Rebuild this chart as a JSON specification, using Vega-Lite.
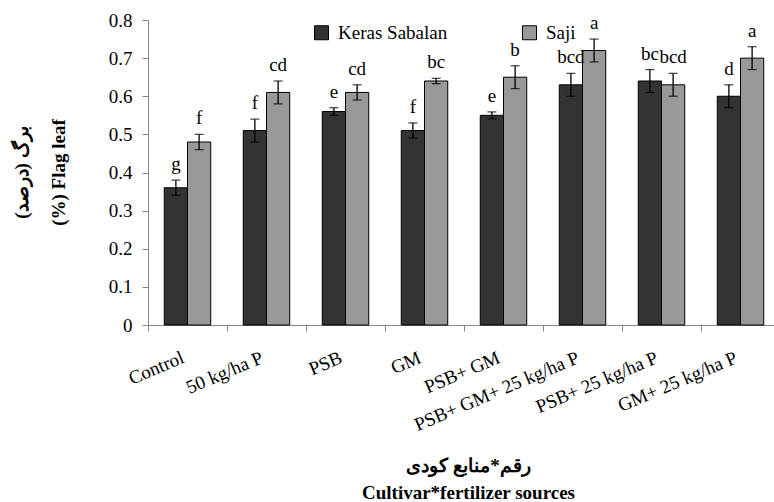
{
  "$schema": "https://vega.github.io/schema/vega-lite/v6.json",
  "width": 626,
  "height": 305,
  "autosize": {"type": "none"},
  "padding": {"left": 148, "top": 20, "right": 0, "bottom": 177},
  "background": "white",
  "data": {
    "values": [
      {"treatment": "Control", "cultivar": "Keras Sabalan", "mean": 0.36, "lo": 0.34, "hi": 0.38, "letter": "g"},
      {"treatment": "Control", "cultivar": "Saji", "mean": 0.48, "lo": 0.46, "hi": 0.50, "letter": "f"},
      {"treatment": "50 kg/ha P", "cultivar": "Keras Sabalan", "mean": 0.51, "lo": 0.48, "hi": 0.54, "letter": "f"},
      {"treatment": "50 kg/ha P", "cultivar": "Saji", "mean": 0.61, "lo": 0.58, "hi": 0.64, "letter": "cd"},
      {"treatment": "PSB", "cultivar": "Keras Sabalan", "mean": 0.56, "lo": 0.55, "hi": 0.57, "letter": "e"},
      {"treatment": "PSB", "cultivar": "Saji", "mean": 0.61, "lo": 0.59, "hi": 0.63, "letter": "cd"},
      {"treatment": "GM", "cultivar": "Keras Sabalan", "mean": 0.51, "lo": 0.49, "hi": 0.53, "letter": "f"},
      {"treatment": "GM", "cultivar": "Saji", "mean": 0.64, "lo": 0.633, "hi": 0.647, "letter": "bc"},
      {"treatment": "PSB+ GM", "cultivar": "Keras Sabalan", "mean": 0.55, "lo": 0.541, "hi": 0.559, "letter": "e"},
      {"treatment": "PSB+ GM", "cultivar": "Saji", "mean": 0.65, "lo": 0.62, "hi": 0.68, "letter": "b"},
      {"treatment": "PSB+ GM+ 25 kg/ha P", "cultivar": "Keras Sabalan", "mean": 0.63, "lo": 0.60, "hi": 0.66, "letter": "bcd"},
      {"treatment": "PSB+ GM+ 25 kg/ha P", "cultivar": "Saji", "mean": 0.72, "lo": 0.69, "hi": 0.75, "letter": "a"},
      {"treatment": "PSB+ 25 kg/ha P", "cultivar": "Keras Sabalan", "mean": 0.64, "lo": 0.61, "hi": 0.67, "letter": "bc"},
      {"treatment": "PSB+ 25 kg/ha P", "cultivar": "Saji", "mean": 0.63, "lo": 0.60, "hi": 0.66, "letter": "bcd"},
      {"treatment": "GM+ 25 kg/ha P", "cultivar": "Keras Sabalan", "mean": 0.60, "lo": 0.57, "hi": 0.63, "letter": "d"},
      {"treatment": "GM+ 25 kg/ha P", "cultivar": "Saji", "mean": 0.70, "lo": 0.67, "hi": 0.73, "letter": "a"}
    ]
  },
  "encoding": {
    "x": {
      "field": "treatment",
      "type": "nominal",
      "sort": null,
      "scale": {"paddingInner": 0, "paddingOuter": 0, "range": [0, 632]},
      "axis": {
        "title": ["رقم*منابع کودی", "Cultivar*fertilizer sources"],
        "bandPosition": 0,
        "labelAngle": -23,
        "labelAlign": "right",
        "labelBaseline": "top",
        "labelOffset": -8,
        "labelPadding": 17,
        "labelLimit": 0,
        "labelOverlap": false,
        "tickSize": 6,
        "tickColor": "#868686",
        "domainColor": "#868686",
        "titleX": 320,
        "titleY": 146,
        "titleAlign": "center",
        "titleBaseline": "alphabetic",
        "titleLineHeight": 27
      }
    },
    "xOffset": {
      "field": "cultivar",
      "type": "nominal",
      "sort": ["Keras Sabalan", "Saji"],
      "scale": {"paddingInner": 0, "paddingOuter": 0.7}
    }
  },
  "layer": [
    {
      "mark": {"type": "bar", "stroke": "#000", "strokeWidth": 1},
      "encoding": {
        "y": {
          "field": "mean",
          "type": "quantitative",
          "scale": {"domain": [0, 0.8]},
          "axis": {
            "values": [0, 0.1, 0.2, 0.3, 0.4, 0.5, 0.6, 0.7, 0.8],
            "format": ".1~f",
            "title": ["برگ (درصد)", "(%) Flag leaf"]
          }
        },
        "color": {
          "field": "cultivar",
          "type": "nominal",
          "scale": {"domain": ["Keras Sabalan", "Saji"], "range": ["#333333", "#999999"]},
          "legend": {
            "orient": "none",
            "legendX": 164,
            "legendY": 3,
            "direction": "horizontal",
            "title": null,
            "symbolType": "square",
            "symbolSize": 196,
            "symbolStrokeColor": "#000",
            "symbolStrokeWidth": 1,
            "labelOffset": 7,
            "columnPadding": 72
          }
        }
      }
    },
    {
      "mark": {"type": "rule", "color": "#000", "strokeWidth": 1.3},
      "encoding": {
        "y": {
          "field": "lo",
          "type": "quantitative",
          "axis": {
            "values": [0, 0.1, 0.2, 0.3, 0.4, 0.5, 0.6, 0.7, 0.8],
            "format": ".1~f",
            "title": ["برگ (درصد)", "(%) Flag leaf"]
          }
        },
        "y2": {"field": "hi"}
      }
    },
    {
      "mark": {"type": "tick", "color": "#000", "size": 9, "thickness": 1.3},
      "encoding": {
        "y": {
          "field": "lo",
          "type": "quantitative",
          "axis": {
            "values": [0, 0.1, 0.2, 0.3, 0.4, 0.5, 0.6, 0.7, 0.8],
            "format": ".1~f",
            "title": ["برگ (درصد)", "(%) Flag leaf"]
          }
        }
      }
    },
    {
      "mark": {"type": "tick", "color": "#000", "size": 9, "thickness": 1.3},
      "encoding": {
        "y": {
          "field": "hi",
          "type": "quantitative",
          "axis": {
            "values": [0, 0.1, 0.2, 0.3, 0.4, 0.5, 0.6, 0.7, 0.8],
            "format": ".1~f",
            "title": ["برگ (درصد)", "(%) Flag leaf"]
          }
        }
      }
    },
    {
      "mark": {"type": "text", "fontSize": 19, "baseline": "alphabetic", "dy": -10, "color": "#000"},
      "encoding": {
        "y": {
          "field": "hi",
          "type": "quantitative",
          "axis": {
            "values": [0, 0.1, 0.2, 0.3, 0.4, 0.5, 0.6, 0.7, 0.8],
            "format": ".1~f",
            "title": ["برگ (درصد)", "(%) Flag leaf"]
          }
        },
        "text": {"field": "letter"}
      }
    }
  ],
  "config": {
    "view": {"stroke": null},
    "font": "Liberation Serif",
    "axis": {
      "labelFont": "Liberation Serif",
      "labelFontSize": 19,
      "labelColor": "#000",
      "titleFont": "Liberation Serif",
      "titleFontSize": 19,
      "titleFontWeight": "bold",
      "titleColor": "#000"
    },
    "axisY": {
      "grid": false,
      "labelOverlap": false,
      "tickSize": 6,
      "tickColor": "#868686",
      "domainColor": "#868686",
      "labelPadding": 10,
      "titleAngle": -90,
      "titleX": -121,
      "titleY": 152,
      "titleAlign": "center",
      "titleBaseline": "alphabetic",
      "titleLineHeight": 37
    },
    "legend": {
      "labelFont": "Liberation Serif",
      "labelFontSize": 19,
      "labelColor": "#000"
    },
    "text": {"font": "Liberation Serif"}
  }
}
